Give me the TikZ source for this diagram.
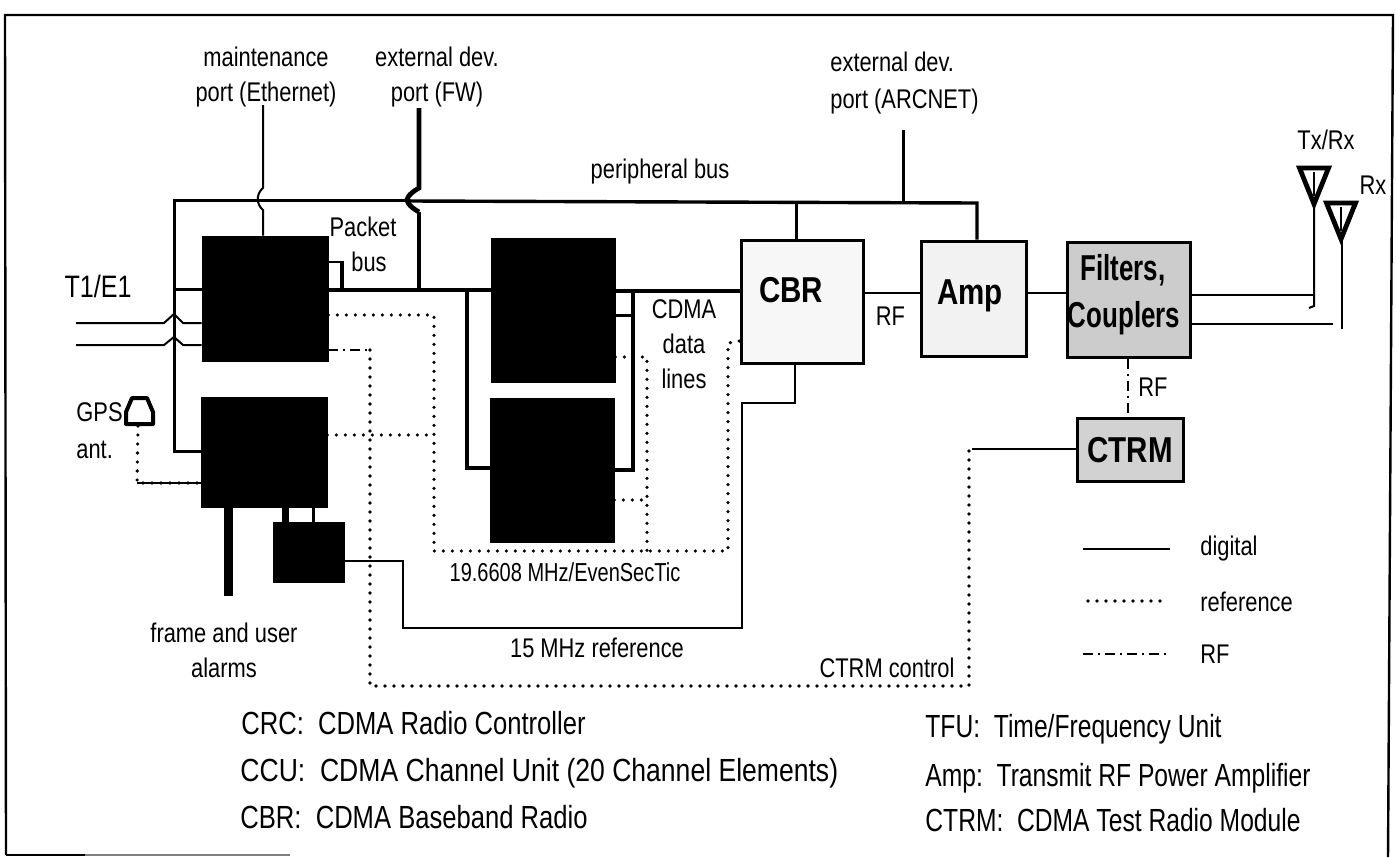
\documentclass[tikz,border=0pt]{standalone}
\usepackage{fontspec}
\setmainfont[FakeStretch=0.81]{Liberation Sans}
\newfontfamily\fonteA[FakeStretch=0.72]{Liberation Sans}
\newfontfamily\fonteB[FakeStretch=0.77]{Liberation Sans}
\newfontfamily\fonteC[FakeStretch=0.80]{Liberation Sans}
\newfontfamily\fonteD[FakeStretch=0.82]{Liberation Sans}
\newfontfamily\fonteE[FakeStretch=0.83]{Liberation Sans}
\begin{document}
\begin{tikzpicture}[
    x=0.5pt,y=-0.5pt,
    every node/.style={font=\fontsize{13.5}{17.5}\selectfont, align=center, inner sep=0pt},
    chave/.style={font=#1\fontsize{16}{20}\selectfont, anchor=west},
    sigla/.style={font=#1\fontsize{18}{24}\selectfont\bfseries},
    preto/.style={draw, fill=black, minimum width=#1},
    unidade/.style={draw, line width=1.5pt},
    digital/.style={line width=1pt},
    barra/.style={line width=2pt},
    referencia/.style={line width=1.8pt, line cap=round, dash pattern=on 0pt off 4.5pt},
    radio/.style={line width=1pt, dash pattern=on 5pt off 2.5pt on 1pt off 2.5pt},
    pics/antena/.style={
        code={
            \draw[line width=2.4pt, line join=miter] (-14.5,-36) -- (14.5,-36) -- (0,0) -- cycle;
            \draw[line width=0.6pt] (0,-32) -- (0,-8);
        }
    }
]
\useasboundingbox (0,0) rectangle (1396,857);

% Moldura
\draw[line width=1.2pt] (6,855) -- (5,15) -- (1393,15) -- (1388,857);
\draw[line width=1.2pt] (6,855) -- (85,855);
\draw[line width=0.6pt, gray] (85,855) -- (290,855);

% Unidades
\node[preto=63pt, minimum height=62.5pt] (crc) at (265,298.5) {};
\node[preto=63pt, minimum height=55pt] (tfu) at (264,452) {};
\node[preto=35.5pt, minimum height=30pt] (osc) at (308.5,552) {};
\node[preto=62pt, minimum height=72pt] (ccua) at (553,310) {};
\node[preto=62pt, minimum height=72pt] (ccub) at (552,470.5) {};
\node[unidade, fill=gray!6, minimum width=61pt, minimum height=61.5pt] (cbr) at (802,301.5) {};
\node[unidade, fill=gray!10, minimum width=52.5pt, minimum height=57.5pt] (amp) at (973.5,298.5) {};
\node[unidade, fill=gray!40, minimum width=61.5pt, minimum height=57.5pt] (filt) at (1128.5,299.5) {};
\node[unidade, fill=gray!35, minimum width=53pt, minimum height=31.5pt] (ctrm) at (1130,449.5) {};
\node[sigla=\fonteD] (txcbr) at (791,290) {CBR};
\node[sigla=\fonteD] (txamp) at (970,296) {Amp};
\node[sigla=\fonteA] (txfilt) at (1123,270) {Filters,};
\node[sigla=\fonteA] (txcoup) at (1124,318) {Couplers};
\node[sigla=\fonteD] (txctrm) at (1130,450) {CTRM};

% Antenas
\pic at (1314,204) {antena};
\pic at (1341,239) {antena};
\coordinate (txpe) at (1314,204);
\coordinate (rxpe) at (1342,239);
\coordinate (gpspe) at (138,426);

% Barramento periferico
\coordinate (esq) at (174,200);
\coordinate (fwtopo) at (419,108);
\coordinate (mttopo) at (263,105);
\coordinate (arctopo) at (903,130);
\draw[digital, line width=1.5pt] (tfu.west |- 0,451) -- (174,451) -- (esq) -- (408,200);
\draw[digital, line width=1.5pt] (174,289) -- (crc.west |- 0,289);
\draw[line width=1.7pt] (410,201) -- (977,203) -- (amp.north -| 977,0);
\draw[digital, line width=1.5pt] (796,203) -- (cbr.north -| 796,0);
\draw[digital, line width=1.5pt] (arctopo) -- (903,203);
\draw[digital] (mttopo) -- (263,188) .. controls (256,194) and (256,204) .. (263,210) -- (crc.north -| 263,0);
\draw[line width=2.4pt] (fwtopo) -- (419,188) .. controls (408,194) and (406,200) .. (408,200) .. controls (406,200) and (408,206) .. (419,212);
\draw[barra, line width=1.6pt] (419,212) -- (419,290);

% Linhas T1/E1
\coordinate (tum) at (76,323);
\coordinate (tdois) at (76,345);
\draw[digital] (tum) -- (164,323) -- (174,314) -- (183,323) -- (crc.west |- 0,323);
\draw[digital] (tdois) -- (164,345) -- (174,337) -- (183,345) -- (crc.west |- 0,345);

% Barramento de pacotes
\draw[barra] (crc.east |- 0,290) -- (ccua.west |- 0,290);
\draw[line width=1.2pt] (crc.east |- 0,262) -- (342,262);
\draw[barra] (342,261) -- (342,290);
\draw[barra, miter limit=10] (467,290) -- (467,468) -- (ccub.west |- 0,468);

% Linhas de dados
\draw[barra, line width=1.6pt] (ccua.east |- 0,291) -- (cbr.west |- 0,291);
\draw[barra] (633,291) -- (633,470) -- (ccub.east |- 0,470);
\draw[barra, line width=1.5pt] (ccua.east |- 0,315) -- (633,315);

% Sinais de radio
\draw[digital] (cbr.east |- 0,293) -- (amp.west |- 0,293);
\draw[digital] (amp.east |- 0,293) -- (filt.west |- 0,293);
\draw[digital] (filt.east |- 0,295) -- (1314,295);
\draw[digital] (txpe) -- (1314,306) -- (1309,308);
\draw[digital] (filt.east |- 0,324) -- (1333,324);
\draw[digital] (rxpe) -- (1342,329);
\draw[radio] (filt.south -| 1128,0) -- (ctrm.north -| 1128,0);

% Referencias
\draw[referencia] (crc.east |- 0,315) -- (434,315) -- (434,551) -- (728,551) -- (728,343) -- (cbr.west |- 0,341);
\draw[referencia] (tfu.east |- 0,435) -- (434,435);
\draw[referencia] (ccua.east |- 0,357) -- (647,357) -- (647,551);
\draw[referencia] (ccub.east |- 0,500) -- (647,500);
\draw[radio] (crc.east |- 0,350) -- (370,350);
\draw[referencia] (370,350) -- (370,686) -- (969,686) -- (969,449);
\draw[digital] (972,449) -- (ctrm.west |- 0,449);
\draw[referencia] (gpspe) -- (137,483) -- (tfu.west |- 0,483);
\draw[line width=0.7pt] (137,483) -- (tfu.west |- 0,483);

% Antena GPS
\draw[line width=2pt, line join=round] (132,398) -- (147,398) -- (153,412) -- (153,424) -- (126,424) -- (126,412) -- cycle;

% Alarmes e 15 MHz
\coordinate (alarme) at (228,596);
\draw[line width=4.5pt] (tfu.south -| 228,0) -- (alarme);
\draw[line width=3.5pt] (tfu.south -| 285,0) -- (osc.north -| 285,0);
\draw[digital, line width=1.5pt] (tfu.south -| 313,0) -- (osc.north -| 313,0);
\draw[digital] (osc.east |- 0,561) -- (403,561) -- (403,628) -- (742,628) -- (742,403) -- (795,403) -- (cbr.south -| 795,0);

% Rotulos
\node (lblmt) at (266,77) {maintenance\\port (Ethernet)};
\node (lblfw) at (437,77) {external dev.\\port (FW)};
\node[anchor=west, align=left] (lblarc) at (830,83) {external dev.\\[1pt]port (ARCNET)};
\node (lblper) at (660,172) {peripheral bus};
\node (lbltx) at (1326,140) {Tx/Rx};
\node (lblrx) at (1373,185) {Rx};
\node[font=\fontsize{15.5}{18}\selectfont] (lblt) at (98,286) {T1/E1};
\node (lblpkt) at (363,244) {Packet\\\hspace*{6pt}bus};
\node[anchor=west, align=left] (lblgps) at (76,431) {GPS\\[1pt]ant.};
\node (lblcdma) at (684,344) {CDMA\\data\\lines};
\node (lblrf) at (890.5,316) {RF};
\node (lblrfb) at (1153,387) {RF};
\node[font=\fonteB\fontsize{13}{15}\selectfont] (lblsec) at (565,572) {19.6608 MHz/EvenSecTic};
\node (lblquinze) at (597,648) {15 MHz reference};
\node (lblalarm) at (224,650) {frame and user\\alarms};
\node (lblctrl) at (887,668) {CTRM control};

% Legenda
\coordinate (dga) at (1083,549);
\coordinate (dgb) at (1170,549);
\coordinate (rfa) at (1088,601);
\coordinate (rfb) at (1165,601);
\coordinate (rda) at (1083,654);
\coordinate (rdb) at (1167,654);
\draw[digital] (dga) -- (dgb);
\draw[referencia] (rfa) -- (rfb);
\draw[radio] (rda) -- (rdb);
\node[anchor=west] (lbldig) at (1200,549) {digital};
\node[anchor=west] (lblref) at (1200,602) {reference};
\node[anchor=west] (lblrad) at (1200,654) {RF};

% Siglas
\node[chave=\fonteC] (sgcrc) at (241,723) {CRC:\ \ CDMA Radio Controller};
\node[chave=\fonteE] (sgccu) at (240,773) {CCU:\ \ CDMA Channel Unit (20 Channel Elements)};
\node[chave=\fonteC] (sgcbr) at (240,817) {CBR:\ \ CDMA Baseband Radio};
\node[chave=\fonteB] (sgtfu) at (925,729) {TFU:\ \ Time/Frequency Unit};
\node[chave=\fonteB] (sgamp) at (925,778) {Amp:\ \ Transmit RF Power Amplifier};
\node[chave=\fonteB] (sgctrm) at (925,820) {CTRM:\ \ CDMA Test Radio Module};

\end{tikzpicture}
\end{document}
